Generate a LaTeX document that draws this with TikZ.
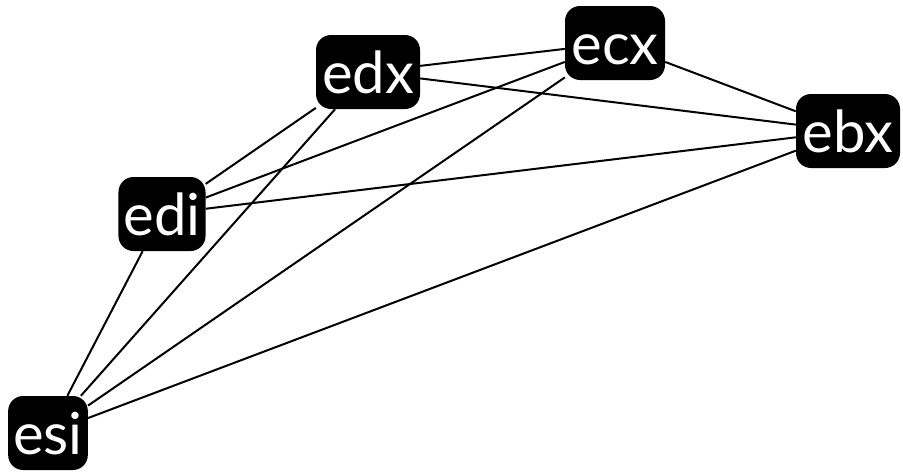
\documentclass[tikz,border=0pt]{standalone}
\usepackage{fontspec}
\setmainfont{Lato}
\begin{document}
\begin{tikzpicture}[x=1pt,y=1pt,
  reg/.style={fill=black,text=white,rounded corners=15pt,minimum height=74pt,inner xsep=5pt,inner ysep=0pt,text height=42pt,text depth=0pt,font=\fontsize{58}{58}\selectfont},
  link/.style={line width=2pt}]
\useasboundingbox (0,0) rectangle (903,-474);
\node[reg,minimum width=104pt] (edx) at (368,-72) {edx};
\node[reg,minimum width=100pt] (ecx) at (615,-43) {ecx};
\node[reg,minimum width=104pt] (ebx) at (848,-131) {ebx};
\node[reg,minimum width=85pt] (edi) at (162,-214) {edi};
\node[reg,minimum width=79pt] (esi) at (48,-433) {esi};
\draw[link] (edx) -- (ecx);
\draw[link] (edx) -- (ebx);
\draw[link] (edx) -- (edi);
\draw[link] (edx) -- (esi);
\draw[link] (ecx) -- (ebx);
\draw[link] (ecx) -- (edi);
\draw[link] (ecx) -- (esi);
\draw[link] (ebx) -- (edi);
\draw[link] (ebx) -- (esi);
\draw[link] (edi) -- (esi);
\end{tikzpicture}
\end{document}
